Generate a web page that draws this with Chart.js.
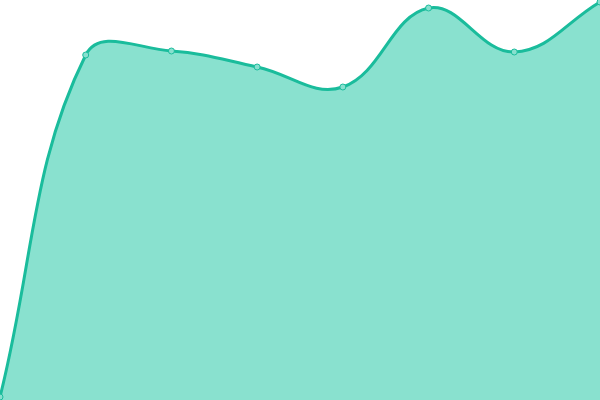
<!DOCTYPE html>
<html>
<head>
<meta charset="utf-8">
<script src="https://cdn.jsdelivr.net/npm/chart.js"></script>
<style>
  html, body { margin: 0; padding: 0; background: #fff; }
  #wrap { width: 600px; height: 400px; }
</style>
</head>
<body>
<div id="wrap"><canvas id="chart"></canvas></div>
<script>
const labels = ['1', '2', '3', '4', '5', '6', '7', '8'];
const values = [3, 345, 349, 333, 313, 392, 348, 398];

const config = {
    type: 'line',
    data: {
        labels: labels,
        datasets: [{
            data: values,
            borderColor: '#1abc9c',
            backgroundColor: 'rgba(20, 195, 160, 0.5)',
            borderWidth: 3,
            fill: true,
            tension: 0.4,
            pointRadius: 3,
            pointBorderWidth: 1,
            pointBackgroundColor: '#88e0cf',
            pointBorderColor: '#1abc9c'
        }]
    },
    options: {
        responsive: true,
        maintainAspectRatio: false,
        animation: false,
        layout: { padding: 0, autoPadding: false },
        plugins: { legend: { display: false }, tooltip: { enabled: false } },
        scales: {
            x: { display: false },
            y: { display: false, min: 0, max: 400 }
        }
    }
};

new Chart(document.getElementById('chart'), config);
</script>
</body>
</html>
